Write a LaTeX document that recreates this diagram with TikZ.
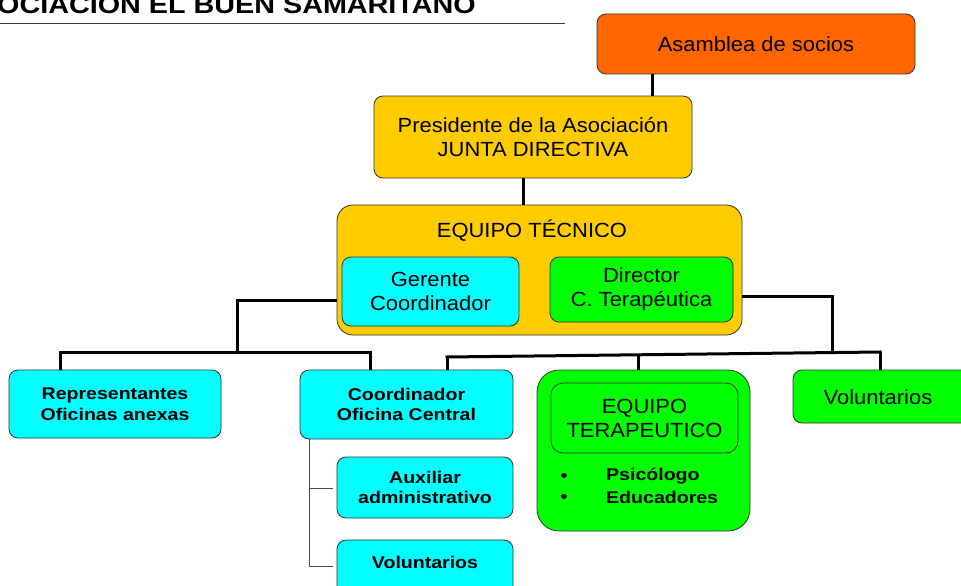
\documentclass[tikz,border=0pt]{standalone}
\usepackage{fontspec}
\setmainfont{Liberation Sans}[FakeStretch=1.15]
\newfontfamily\regfont{Liberation Sans}[FakeStretch=1.07]
\definecolor{corange}{HTML}{FF6600}
\definecolor{cgold}{HTML}{FFCC00}
\definecolor{ccyan}{HTML}{00FFFF}
\definecolor{cgreen}{HTML}{00FF00}
\definecolor{cedge}{HTML}{333333}
\tikzset{
  orgbox/.style={draw=cedge, line width=0.8pt, rounded corners=9pt, align=center, inner sep=0pt,
    font=\regfont\fontsize{20.5}{24}\selectfont},
  boldbox/.style={orgbox, font=\fontsize{17}{20.5}\selectfont\bfseries},
  conn/.style={draw=black, line width=3pt},
  thin/.style={draw=black!70, line width=1pt},
  txt/.style={inner sep=0pt, align=center, font=\regfont\fontsize{20.5}{24}\selectfont},
  btxt/.style={inner sep=0pt, font=\fontsize{17}{20.5}\selectfont\bfseries},
}
\begin{document}
\begin{tikzpicture}[x=1pt,y=-1pt]
\useasboundingbox (0,0) rectangle (961,586);
\clip (0,0) rectangle (961,586);
\fill[white] (0,0) rectangle (961,586);

% title
\node[anchor=base west, inner sep=0pt, font=\fontsize{25}{25}\selectfont\bfseries] (title) at (-3,14) {OCIACION EL BUEN SAMARITANO};
\draw[line width=1pt, black!75] (title.base west |- 0,24) coordinate (tl) -- (565,24) coordinate (tr);

% boxes
\node[orgbox, fill=corange, minimum width=318pt, minimum height=60pt] (asam) at (756,44) {Asamblea de socios};
\node[orgbox, fill=cgold, minimum width=318pt, minimum height=82pt] (pres) at (533,137) {Presidente de la Asociación\\JUNTA DIRECTIVA};
\node[orgbox, fill=cgold, rounded corners=16pt, minimum width=405pt, minimum height=130pt] (eqt) at (539.5,270) {};
\node[txt] (eqttitle) at (532,231) {EQUIPO TÉCNICO};
\node[orgbox, fill=ccyan, minimum width=177pt, minimum height=69pt] (ger) at (430.5,291.5) {Gerente\\Coordinador};
\node[orgbox, fill=cgreen, minimum width=183pt, minimum height=65pt] (dir) at (641.5,289.5) {Director\\C. Terapéutica};

\node[boldbox, fill=ccyan, minimum width=212pt, minimum height=68pt] (rep) at (115,404) {Representantes\\Oficinas anexas};
\node[boldbox, fill=ccyan, minimum width=213pt, minimum height=69pt] (coc) at (406.5,404.5) {Coordinador\\Oficina Central};
\node[boldbox, fill=ccyan, minimum width=176pt, minimum height=61pt] (aux) at (425,487.5) {Auxiliar\\administrativo};
\node[boldbox, fill=ccyan, minimum width=176pt, minimum height=76pt] (vola) at (425,578) {};
\node[btxt] (volatext) at (425,562) {Voluntarios};

\node[orgbox, fill=cgreen, rounded corners=22pt, minimum width=213pt, minimum height=161pt] (eter) at (643.5,450.5) {};
\node[orgbox, fill=cgreen, rounded corners=12pt, minimum width=187pt, minimum height=70pt] (etin) at (644.5,418) {EQUIPO\\TERAPEUTICO};
\node[btxt, anchor=center] (b1) at (564,477) {\textbullet};
\node[btxt, anchor=center] (b2) at (564,498) {\textbullet};
\node[btxt, anchor=west] (psi) at (606,476) {Psicólogo};
\node[btxt, anchor=west] (edu) at (606,497) {Educadores};

\node[orgbox, fill=cgreen, minimum width=182pt, minimum height=53pt] (volb) at (884,396.5) {};
\node[txt] (volbtext) at (878,397) {Voluntarios};

% junction coordinates
\coordinate (ja) at (652,0);
\coordinate (jb) at (523,0);
\coordinate (l1) at (237,300);
\coordinate (l2) at (237,352);
\coordinate (l3) at (60,352);
\coordinate (l4) at (370,352);
\coordinate (r1) at (832,296);
\coordinate (r2) at (832,353);
\coordinate (r3) at (447,357);
\coordinate (r4) at (880,352);
\coordinate (r5) at (638,354.5);
\coordinate (v1) at (309,0);
\coordinate (v2) at (309,566);
\coordinate (v3) at (309,488);
\coordinate (v4) at (333,488);
\coordinate (v5) at (333,566);

% connectors
\draw[conn] (asam.south -| ja) -- (pres.north -| ja);
\draw[conn] (pres.south -| jb) -- (eqt.north -| jb);
\draw[conn] (eqt.west |- l1) -- (l1) -- (l2);
\draw[conn, line cap=rect] (l3) -- (l4);
\draw[conn] (l3) -- (rep.north -| l3);
\draw[conn] (l4) -- (coc.north -| l4);
\draw[conn] (eqt.east |- r1) -- (r1) -- (r2);
\draw[conn, line cap=rect] (r3) -- (r4);
\draw[conn] (r3) -- (coc.north -| r3);
\draw[conn] (r5) -- (eter.north -| r5);
\draw[conn] (r4) -- (volb.north -| r4);
\draw[thin] (coc.south -| v1) -- (v2) -- (v5);
\draw[thin] (v3) -- (v4);
\end{tikzpicture}
\end{document}
